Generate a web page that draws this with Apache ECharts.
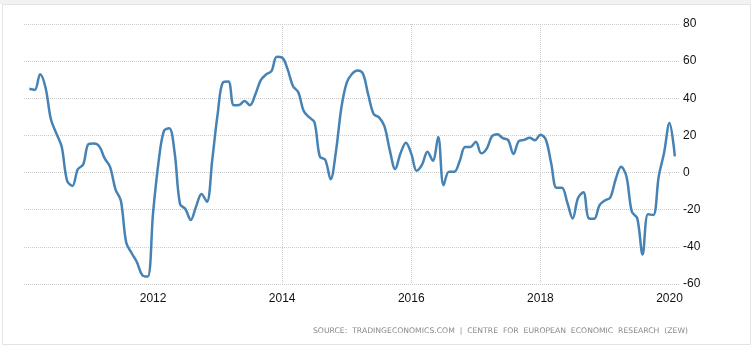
<!DOCTYPE html>
<html>
<head>
<meta charset="utf-8">
<script src="https://cdn.jsdelivr.net/npm/echarts@6/dist/echarts.min.js"></script>
<style>
html,body{margin:0;padding:0;background:#fff;}
#chart{width:756px;height:351px;}
</style>
</head>
<body>
<div id="chart"></div>
<script>
// Germany ZEW economic sentiment, monthly, Feb 2010 - Feb 2020
var startYear = 2010, startMonth = 2;
var v2010 = [45.1, 44.5, 53.0, 45.8, 28.7, 21.2, 14.0, -4.3, -7.2, 1.8, 4.3];
var v2011 = [15.4, 15.7, 14.1, 7.6, 3.1, -9.0, -15.1, -37.6, -43.3, -48.3, -55.3, -56.0];
var v2012 = [-21.6, 5.4, 22.3, 23.9, 10.8, -16.9, -19.6, -25.5, -18.2, -11.5, -15.7, 6.9];
var v2013 = [31.5, 48.6, 49.0, 36.3, 36.4, 38.5, 36.3, 42.0, 49.6, 52.8, 54.6, 62.3];
var v2014 = [61.9, 55.7, 46.6, 43.2, 33.1, 29.8, 27.1, 8.6, 6.9, -3.6, 11.5, 34.9];
var v2015 = [48.4, 53.2, 55.0, 53.3, 41.9, 31.5, 29.7, 25.0, 12.1, 1.9, 10.4, 16.1];
var v2016 = [10.2, 1.0, 4.3, 11.2, 6.4, 19.2, -6.8, 0.5, 0.5, 6.2, 13.8, 13.8];
var v2017 = [16.6, 10.4, 12.8, 19.5, 20.6, 18.6, 17.5, 10.0, 17.0, 17.6, 18.7, 17.4];
var v2018 = [20.4, 17.8, 5.1, -8.2, -8.2, -16.1, -24.7, -13.7, -10.6, -24.7, -24.9, -17.5];
var v2019 = [-15.0, -13.4, -3.6, 3.1, -2.1, -21.1, -24.5, -44.1, -22.5, -22.8, -2.1, 10.7];
var v2020 = [26.7, 8.7];

var xTickLabels = [2012, 2014, 2016, 2018, 2020];
var yTickLabels = [-60, -40, -20, 0, 20, 40, 60, 80];
var sourceText = 'SOURCE:  TRADINGECONOMICS.COM  |  CENTRE  FOR  EUROPEAN  ECONOMIC  RESEARCH  (ZEW)';

var allValues = [].concat(v2010, v2011, v2012, v2013, v2014, v2015, v2016, v2017, v2018, v2019, v2020);
var seriesData = allValues.map(function (v, i) {
  var m = startMonth - 1 + i;
  return [startYear + m / 12, v];
});

var gridColor = '#cccccc';
var labelFont = '"Liberation Sans", Arial, sans-serif';

var chart = echarts.init(document.getElementById('chart'), null, {renderer: 'canvas'});
chart.setOption({
  animation: false,
  backgroundColor: '#fff',
  grid: {left: 24, top: 24, width: 656, height: 260, containLabel: false},
  xAxis: {
    type: 'value',
    min: 2010,
    max: 2020.163,
    interval: 2,
    axisLine: {show: false},
    axisTick: {show: true, length: 4, lineStyle: {color: gridColor, type: 'dotted'}, customValues: xTickLabels},
    axisLabel: {
      color: '#111', fontSize: 12, fontFamily: labelFont, margin: 9,
      customValues: xTickLabels,
      formatter: function (v) { return String(Math.round(v)); }
    },
    splitLine: {show: true, showMinLine: false, showMaxLine: false, lineStyle: {color: gridColor, type: 'dotted', width: 1}}
  },
  yAxis: {
    type: 'value',
    position: 'right',
    min: -60,
    max: 80,
    interval: 20,
    axisLine: {show: false},
    axisTick: {show: false},
    axisLabel: {color: '#111', fontSize: 12, fontFamily: labelFont, margin: 3,
      formatter: function (v) { return yTickLabels.indexOf(v) >= 0 ? String(v) : ''; }},
    splitLine: {show: true, lineStyle: {color: gridColor, type: 'dotted', width: 1}}
  },
  series: [{
    type: 'line',
    data: seriesData,
    smooth: 0.35,
    showSymbol: false,
    symbol: 'none',
    lineStyle: {color: '#4682b4', width: 2.5},
    itemStyle: {color: '#4682b4'}
  }],
  graphic: [
    {type: 'rect', silent: true, z: -10, shape: {x: 0, y: 0, width: 751, height: 4}, style: {fill: '#f2f2f2'}},
    {type: 'rect', silent: true, z: -9, shape: {x: 2.5, y: 4.5, width: 748, height: 340}, style: {fill: 'none', stroke: '#e3e3e3', lineWidth: 1}},
    {type: 'text', silent: true, right: 68, top: 327,
      style: {text: sourceText, fill: '#8a8a8a', font: '7.7px "DejaVu Sans", sans-serif', textAlign: 'right'}}
  ]
});
</script>
</body>
</html>
